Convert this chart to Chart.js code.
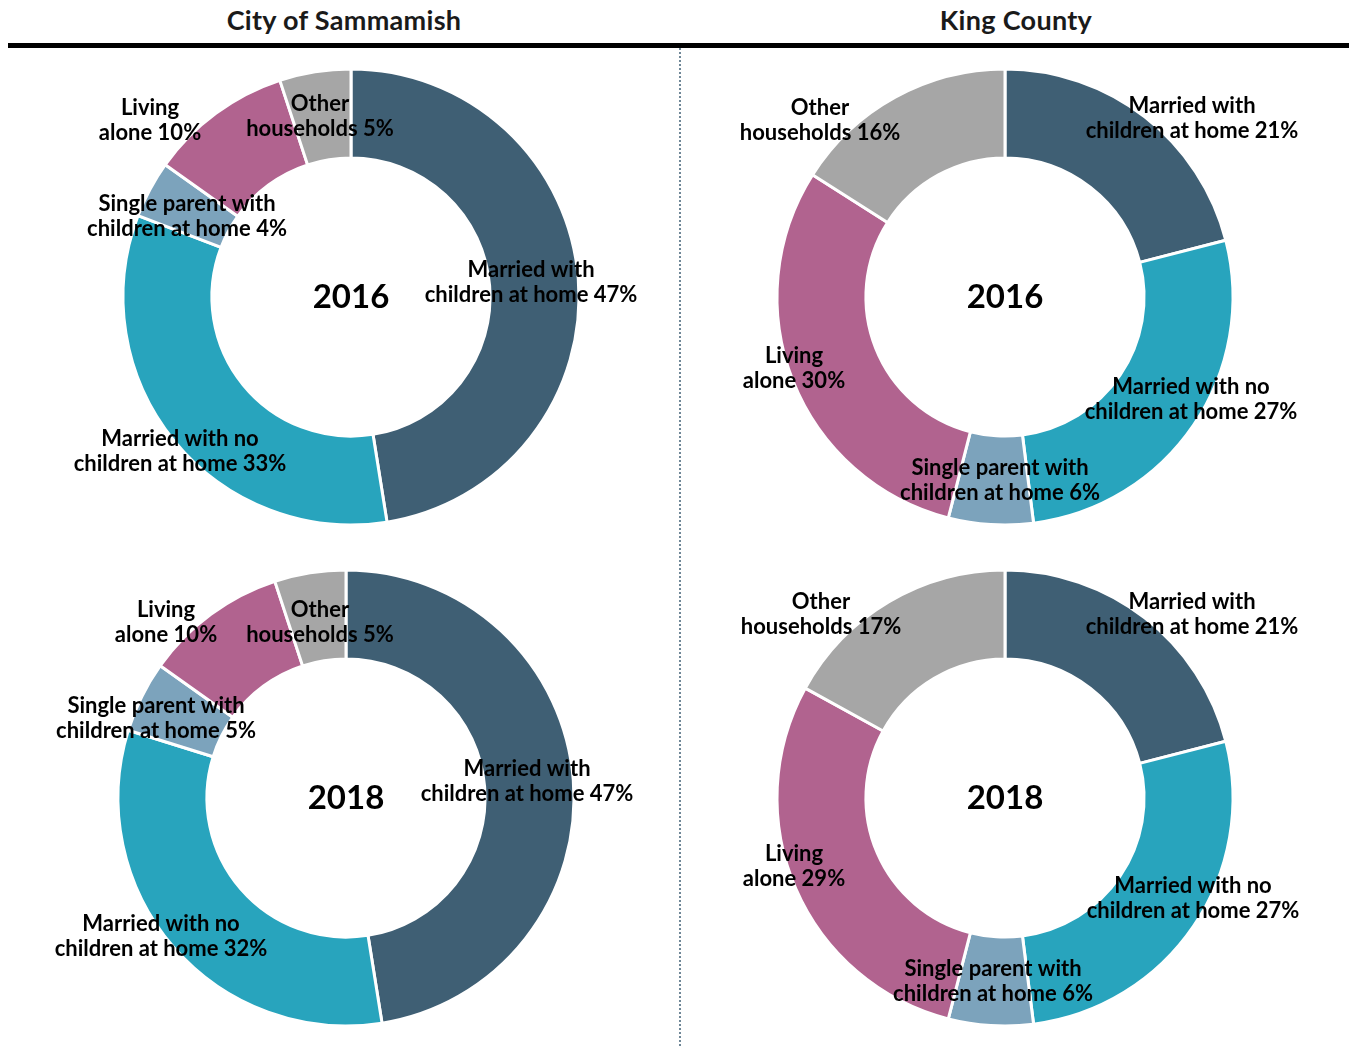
<!DOCTYPE html>
<html>
<head>
<meta charset="utf-8">
<script src="https://cdn.jsdelivr.net/npm/chart.js@4.4.0/dist/chart.umd.min.js"></script>
<style>
  body { margin: 0; background: #fff; width: 1349px; height: 1046px; position: relative; overflow: hidden; font-family: Lato, "Noto Sans", sans-serif; }
  .head { position: absolute; top: 3px; font-size: 27px; font-weight: bold; color: #1a1a1a; text-align: center; letter-spacing: 0.3px; }
  .rule { position: absolute; left: 8px; top: 43px; width: 1341px; height: 5px; background: #000; }
  .divider { position: absolute; left: 679px; top: 48px; height: 998px; border-left: 2px dotted #6f8797; }
  .box { position: absolute; }
</style>
</head>
<body>
<div class="head" style="left:144px;width:400px;">City of Sammamish</div>
<div class="head" style="left:816px;width:400px;">King County</div>
<div class="rule"></div>
<div class="divider"></div>

<div class="box" style="left:64px;top:49px;width:574px;height:496px;"><canvas id="c1"></canvas></div>
<div class="box" style="left:40px;top:550px;width:612px;height:496px;"><canvas id="c2"></canvas></div>
<div class="box" style="left:705px;top:49px;width:600px;height:496px;"><canvas id="c3"></canvas></div>
<div class="box" style="left:705px;top:550px;width:600px;height:496px;"><canvas id="c4"></canvas></div>

<script>
// household types, clockwise from 12 o'clock
const categories = [
  ['Married with', 'children at home'],
  ['Married with no', 'children at home'],
  ['Single parent with', 'children at home'],
  ['Living', 'alone'],
  ['Other', 'households']
];
const colors = ['#3F5F74', '#28A4BD', '#7CA3BC', '#B1638F', '#A6A6A6'];

// percent of households
const sammamish2016 = [47, 33, 4, 10, 5];
const sammamish2018 = [47, 32, 5, 10, 5];
const king2016 = [21, 27, 6, 30, 16];
const king2018 = [21, 27, 6, 29, 17];

// label placement, offset of each label block's centre from the ring centre
const labelSpots = {
  c1: [[180, -15], [-171, 154], [-164, -81], [-201, -177], [-31, -181]],
  c2: [[181, -17], [-185, 138], [-190, -80], [-180, -176], [-26, -176]],
  c3: [[187, -179], [186, 102], [-5, 183], [-211, 71], [-185, -177]],
  c4: [[187, -184], [188, 100], [-12, 183], [-211, 68], [-184, -184]]
};

const ringLabels = {
  id: 'ringLabels',
  afterDatasetsDraw(chart, args, opts) {
    const ctx = chart.ctx;
    const arc = chart.getDatasetMeta(0).data[0];
    const cx = arc.x, cy = arc.y;
    const values = chart.data.datasets[0].data;
    ctx.save();
    ctx.fillStyle = '#000';
    ctx.textAlign = 'center';
    ctx.textBaseline = 'middle';
    ctx.font = 'bold 33px Lato, "Noto Sans", sans-serif';
    ctx.fillText(opts.year, cx, cy);
    ctx.font = 'bold 22px Lato, "Noto Sans", sans-serif';
    categories.forEach(function (lines, i) {
      const spot = opts.spots[i];
      const text = lines.slice();
      text[text.length - 1] += ' ' + values[i] + '%';
      const top = cy + spot[1] - (text.length - 1) * 25 / 2;
      text.forEach(function (t, k) {
        ctx.fillText(t, cx + spot[0], top + k * 25);
      });
    });
    ctx.restore();
  }
};

function drawRing(id, values, year) {
  const ctx = document.getElementById(id).getContext('2d');
  return new Chart(ctx, {
    type: 'doughnut',
    data: {
      labels: categories.map(function (c) { return c.join(' '); }),
      datasets: [{
        data: values,
        backgroundColor: colors,
        borderColor: '#ffffff',
        borderWidth: 3
      }]
    },
    options: {
      responsive: true,
      maintainAspectRatio: false,
      animation: false,
      radius: 228,
      cutout: '61%',
      events: [],
      plugins: {
        legend: { display: false },
        tooltip: { enabled: false },
        ringLabels: { year: year, spots: labelSpots[id] }
      }
    },
    plugins: [ringLabels]
  });
}

drawRing('c1', sammamish2016, '2016');
drawRing('c2', sammamish2018, '2018');
drawRing('c3', king2016, '2016');
drawRing('c4', king2018, '2018');
</script>
</body>
</html>
